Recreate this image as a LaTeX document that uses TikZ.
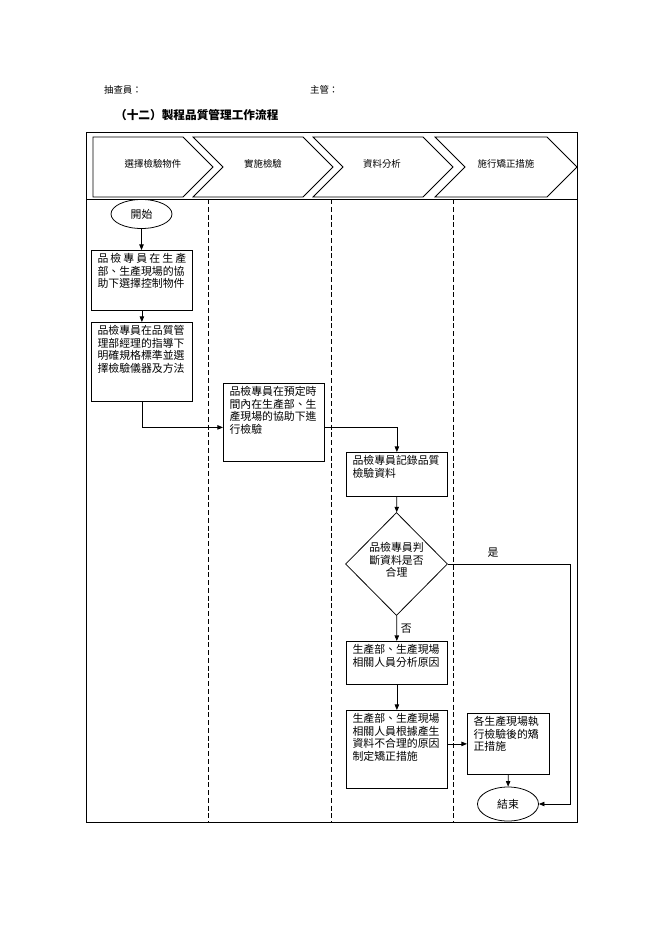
\documentclass[tikz,border=0pt]{standalone}
\usepackage{fontspec}
\setmainfont{Noto Sans CJK TC}
\usepackage{tikz}
\usetikzlibrary{shapes,arrows.meta}
\newcommand{\boxfont}{\fontsize{9.8}{11.2}\selectfont}
\newcommand{\headfont}{\fontsize{8.5}{10}\selectfont}

\begin{document}
\begin{tikzpicture}[x=0.9pt,y=-0.9pt,line width=0.7pt,>={Triangle[length=5pt,width=4pt]}]
    \tikzset{stepbox/.style 2 args={
      draw,
      rectangle,
      anchor=north west,
      inner xsep=5.5pt,
      inner ysep=3pt,
      font=\boxfont,
      execute at begin node={\begin{minipage}[c][#2][t]{#1}},
      execute at end node={\end{minipage}}},
      ends/.style={ellipse, draw, inner sep=0pt, font=\boxfont},
      lane/.style={dash pattern=on 4.5pt off 2.5pt}}
    \useasboundingbox (0,0) rectangle (662,936);
    % header
    \node[anchor=west, font=\headfont] at (100,90) (checker) {抽查員：};
    \node[anchor=west, font=\headfont] at (306,90) (chief) {主管：};
    \node[anchor=west, font=\bfseries\fontsize{10.5}{12}\selectfont] at (111,115) (title) {（十二）製程品質管理工作流程};
    % frame and lanes
    \draw (86,132) rectangle (577,822);
    \draw (86,199) -- (577,199);
    \draw[lane] (208,199) -- (208,822);
    \draw[lane] (331,199) -- (331,822);
    \draw[lane] (453,199) -- (453,822);
    % phase chevrons
    \draw (93,137) -- (183,137) -- (213,167) -- (183,197) -- (93,197) -- cycle;
    \draw (193,137) -- (303,137) -- (333,167) -- (303,197) -- (193,197) -- (223,167) -- cycle;
    \draw (313,137) -- (423,137) -- (453,167) -- (423,197) -- (313,197) -- (343,167) -- cycle;
    \draw (435,137) -- (547,137) -- (577,167) -- (547,197) -- (435,197) -- (465,167) -- cycle;
    \node[font=\headfont] at (153,164) (ph1) {選擇檢驗物件};
    \node[font=\headfont] at (263,164) (ph2) {實施檢驗};
    \node[font=\headfont] at (382,164) (ph3) {資料分析};
    \node[font=\headfont] at (506,164) (ph4) {施行矯正措施};
    % flow
    \node[ends, minimum width=54.9pt, minimum height=26.1pt] at (141.5,214) (start) {開始};
    \node[stepbox={79.9pt}{48pt}] at (91,250) (pick) {\makebox[\linewidth][s]{品 檢 專 員 在 生 產}\\部、生產現場的協\\助下選擇控制物件};
    \node[stepbox={79.9pt}{65.1pt}] at (91,322) (spec) {品檢專員在品質管\\理部經理的指導下\\明確規格標準並選\\擇檢驗儀器及方法};
    \node[stepbox={79.9pt}{64.2pt}] at (223,383) (check) {品檢專員在預定時\\間內在生產部、生\\產現場的協助下進\\行檢驗};
    \node[stepbox={79.9pt}{33.6pt}] at (346,452) (record) {品檢專員記錄品質\\檢驗資料};
    \node[diamond, draw, minimum width=91.8pt, minimum height=92.7pt, inner sep=0pt, align=center, font=\boxfont] at (396.5,564) (judge) {品檢專員判\\斷資料是否\\合理\rule[-8pt]{0pt}{0pt}};
    \node[stepbox={79.9pt}{32.7pt}] at (346,641) (cause) {生產部、生產現場\\相關人員分析原因};
    \node[stepbox={79.9pt}{64.2pt}] at (346,710) (plan) {生產部、生產現場\\相關人員根據產生\\資料不合理的原因\\制定矯正措施};
    \node[stepbox={62.8pt}{48.9pt}] at (467,713) (act) {各生產現場執\\行檢驗後的矯\\正措施};
    \node[ends, minimum width=54.9pt, minimum height=30.6pt] at (508,804) (finish) {結束};
    \coordinate (yesturn) at (570,564);
    \draw[->] (start) -- (start |- pick.north);
    \draw[->] (pick) -- (spec);
    \draw[->] (spec.south) |- ([yshift=-4.5pt]check.west);
    \draw[->] ([yshift=-4.5pt]check.east) -| (record.north);
    \draw[->] (record) -- (judge);
    \draw[->] (judge) -- node[right, font=\boxfont] {否} (cause);
    \draw[->] (cause) -- (plan);
    \draw[->] (plan.east |- act.west) -- (act.west);
    \draw[->] (act) -- (finish);
    \draw[->] (judge.east) -- node[above=2pt, pos=0.37, font=\boxfont] {是} (yesturn) |- (finish.east);
  \end{tikzpicture}
\end{document}
